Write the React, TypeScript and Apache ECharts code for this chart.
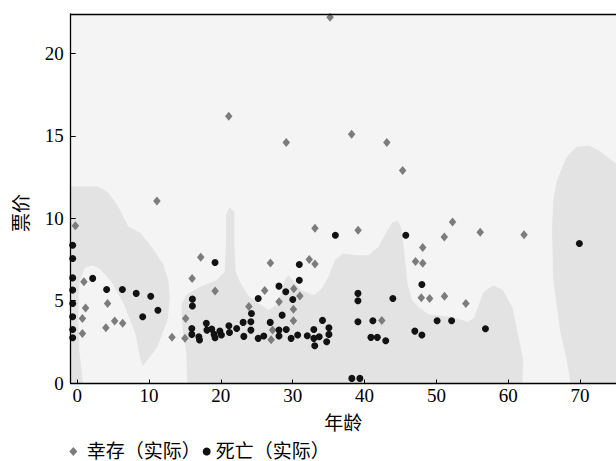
import React, { useEffect, useRef } from "react";
import * as echarts from "echarts";

// ---- data (age, fare) ----
const SURVIVED_POINTS: number[][] = [
  [35.2, 22.2], [21.1, 16.2], [29.1, 14.6], [38.2, 15.1], [43.1, 14.6], [45.3, 12.9],
  [11.1, 11.05], [-0.25, 9.55], [33.1, 9.4], [39.1, 9.27], [52.25, 9.78], [51.1, 8.87],
  [56.1, 9.15], [62.2, 9.0], [48.1, 8.22], [32.3, 7.5], [33.1, 7.22], [47.1, 7.37],
  [48.1, 7.27], [26.9, 7.29], [17.2, 7.64], [16.0, 6.34], [19.2, 5.58], [15.1, 3.92],
  [13.2, 2.78], [15.0, 2.71], [0.94, 6.14], [1.17, 4.56], [0.73, 3.92], [0.73, 3.01],
  [4.23, 4.83], [4.0, 3.35], [5.22, 3.76], [6.33, 3.62], [23.9, 4.65], [26.1, 5.62],
  [28.1, 4.93], [30.15, 5.72], [31.0, 5.28], [30.1, 4.48], [30.1, 3.78], [27.2, 3.21],
  [27.0, 2.63], [47.9, 5.17], [49.06, 5.13], [51.13, 5.27], [54.1, 4.83], [42.4, 3.8],
];

const DIED_POINTS: number[][] = [
  [-0.62, 8.36], [-0.62, 7.56], [-0.62, 6.38], [-0.62, 5.64], [-0.62, 4.83], [-0.62, 4.02],
  [-0.62, 3.25], [-0.62, 2.75], [2.16, 6.35], [4.1, 5.68], [6.29, 5.68], [8.22, 5.44],
  [10.24, 5.27], [9.12, 4.02], [11.24, 4.42], [19.19, 7.32], [16.04, 5.09], [16.04, 4.67],
  [15.96, 3.31], [15.96, 2.95], [16.94, 2.81], [17.03, 2.61], [17.98, 3.62], [18.06, 3.21],
  [18.73, 3.27], [19.06, 2.95], [19.19, 2.75], [19.86, 3.15], [20.08, 2.91], [21.12, 3.47],
  [21.2, 3.07], [22.2, 3.31], [23.1, 3.68], [23.2, 2.83], [24.18, 3.72], [24.18, 3.21],
  [24.26, 4.22], [25.2, 5.13], [25.2, 2.71], [25.97, 2.85], [26.87, 3.68], [28.09, 5.88],
  [29.03, 5.54], [28.53, 4.12], [28.09, 3.21], [28.09, 2.85], [29.1, 3.25], [29.78, 2.71],
  [30.01, 5.07], [30.92, 7.19], [30.92, 6.24], [30.69, 2.91], [32.03, 2.87], [32.94, 3.25],
  [32.94, 2.71], [33.07, 2.26], [33.69, 2.81], [34.15, 3.8], [34.73, 2.5], [35.04, 3.35],
  [35.04, 2.95], [35.94, 8.97], [45.74, 8.97], [69.9, 8.47], [39.08, 5.44], [39.08, 4.99],
  [43.94, 5.13], [47.98, 5.98], [39.08, 3.72], [41.16, 3.78], [40.89, 2.77], [41.78, 2.77],
  [42.95, 2.56], [47.0, 3.15], [47.98, 2.91], [50.1, 3.78], [52.12, 3.78], [56.83, 3.29],
  [38.23, 0.28], [39.35, 0.28],
];

// predicted "death" regions of the classifier (age, fare outlines)
const REGION_LEFT: number[][] = [
  [-3, 0], [-3, 11.94], [2.65, 11.94], [3.46, 11.82], [4.41, 11.52], [5.75, 10.68],
  [7.1, 9.5], [8.81, 9.1], [10.61, 8.1], [12.0, 7.2], [12.7, 6.2], [12.9, 5.21],
  [12.6, 3.82], [11.15, 2.18], [9.8, 1.39], [9.12, 1.03], [8.72, 1.58], [8.14, 2.91],
  [6.56, 4.73], [4.77, 6.14], [3.06, 6.97], [2.08, 7.15], [1.04, 6.97], [0.36, 6.24],
  [0.2, 5.33], [0.15, 3.82], [0.3, 2.0], [0.8, 0],
];

const REGION_MIDDLE: number[][] = [
  [15.32, 0], [15.19, 1.82], [14.65, 3.33], [14.51, 4.73], [15.19, 5.33], [16.27, 5.64],
  [17.61, 5.94], [19.37, 6.24], [20.54, 6.75], [20.71, 8.36], [20.71, 10.18], [21.21, 10.68],
  [21.89, 10.38], [21.89, 8.36], [22.06, 6.75], [22.74, 6.06], [23.96, 5.23], [25.3, 4.83],
  [26.65, 4.42], [27.99, 4.83], [28.89, 6.24], [29.34, 6.55], [30.01, 6.24], [31.13, 5.64],
  [32.94, 5.33], [34.06, 5.74], [34.96, 6.44], [35.85, 7.45], [36.98, 7.86], [38.77, 7.76],
  [40.57, 7.76], [41.91, 8.26], [43.05, 9.17], [43.94, 9.78], [44.61, 9.84], [45.07, 9.47],
  [45.51, 8.06], [45.96, 6.04], [46.63, 5.03], [47.53, 4.62], [48.88, 4.18], [52.12, 4.0],
  [54.37, 3.72], [55.22, 3.94], [56.56, 5.52], [57.91, 5.94], [59.26, 5.64], [60.61, 4.55],
  [61.42, 2.81], [62.09, 1.39], [61.96, 0],
];

const REGION_RIGHT: number[][] = [
  [68.65, 0], [68.15, 1.39], [67.21, 3.21], [66.27, 6.24], [66.09, 9.27], [66.27, 11.09],
  [66.77, 12.3], [68.11, 13.72], [69.46, 14.32], [71.25, 14.42], [72.6, 14.12], [76, 13.0],
  [76, 0],
];

const REGIONS = [REGION_LEFT, REGION_MIDDLE, REGION_RIGHT];

const X_TICKS = [0, 10, 20, 30, 40, 50, 60, 70];
const Y_TICKS = [0, 5, 10, 15, 20];

const SERIES_NAMES = ["幸存（实际）", "死亡（实际）"];

const FONT = "'Liberation Serif', 'Noto Sans CJK SC', serif";

export default function App() {
  const ref = useRef<HTMLDivElement>(null);

  useEffect(() => {
    if (!ref.current) return;
    const chart = echarts.init(ref.current, undefined, { renderer: "svg" });
    const axisLine = { show: true, onZero: false, lineStyle: { color: "#000", width: 1.3 } };
    chart.setOption({
      animation: false,
      backgroundColor: "#ffffff",
      textStyle: { fontFamily: FONT },
      grid: {
        left: 70.7,
        right: -17.9,
        top: 14,
        bottom: 78,
        show: true,
        backgroundColor: "#f4f4f4",
        borderWidth: 0,
      },
      legend: {
        left: 69.3,
        top: 442,
        padding: 0,
        itemWidth: 8,
        itemHeight: 9,
        itemGap: 2,
        selectedMode: false,
        textStyle: { fontFamily: FONT, fontSize: 19, lineHeight: 18, color: "#000" },
        data: [
          { name: SERIES_NAMES[0], icon: "diamond", textStyle: { padding: [0, 0, 0, 4.4] } },
          { name: SERIES_NAMES[1], icon: "circle" },
        ],
      },
      xAxis: [
        {
          type: "value",
          min: -0.9,
          max: 75,
          z: 10,
          name: "年龄",
          nameLocation: "middle",
          nameGap: 31,
          nameTextStyle: { fontFamily: FONT, fontSize: 19, color: "#000" },
          axisLine,
          axisTick: { show: true, inside: true, length: 3.5, customValues: X_TICKS, lineStyle: { color: "#000", width: 1 } },
          axisLabel: { customValues: X_TICKS, fontFamily: FONT, fontSize: 19, color: "#000", margin: 3 },
          splitLine: { show: false },
        },
        {
          type: "value",
          position: "top",
          min: -0.9,
          max: 75,
          z: 10,
          axisLine,
          axisTick: { show: false },
          axisLabel: { show: false },
          splitLine: { show: false },
        },
      ],
      yAxis: {
        type: "value",
        min: 0,
        max: 22.4,
        z: 10,
        axisLine,
        axisTick: { show: true, inside: true, length: 5, customValues: Y_TICKS, lineStyle: { color: "#000", width: 1 } },
        axisLabel: { customValues: Y_TICKS, fontFamily: FONT, fontSize: 19, color: "#000", margin: 7 },
        splitLine: { show: false },
      },
      graphic: [
        {
          type: "text",
          x: 21,
          y: 213,
          rotation: Math.PI / 2,
          style: {
            text: "票价",
            fontFamily: FONT,
            fontSize: 19,
            fill: "#000",
            align: "center",
            verticalAlign: "middle",
          },
        },
      ],
      series: [
        {
          type: "custom",
          name: "regions",
          z: 1,
          clip: true,
          silent: true,
          data: REGIONS.map((_, i) => [i, 0]),
          encode: { x: 0, y: 1 },
          renderItem: (params: any, api: any) => {
            const poly = REGIONS[params.dataIndex];
            const pts = poly.map((p) => api.coord(p));
            const cs = params.coordSys;
            return {
              type: "polygon",
              shape: { points: pts },
              style: { fill: "#e3e3e3" },
              clipPath: { type: "rect", shape: { x: cs.x, y: cs.y, width: cs.width, height: cs.height } },
            };
          },
        },
        {
          type: "scatter",
          name: SERIES_NAMES[0],
          z: 3,
          symbol: "diamond",
          symbolSize: [7.5, 9],
          itemStyle: { color: "#7c7c7c", opacity: 1 },
          data: SURVIVED_POINTS,
        },
        {
          type: "scatter",
          name: SERIES_NAMES[1],
          z: 4,
          symbol: "circle",
          symbolSize: 7,
          itemStyle: { color: "#121212", opacity: 1 },
          data: DIED_POINTS,
        },
      ],
    });
    return () => chart.dispose();
  }, []);

  return (
    <div
      ref={ref}
      style={{ position: "absolute", left: 0, top: 0, width: 616, height: 461 }}
    />
  );
}
